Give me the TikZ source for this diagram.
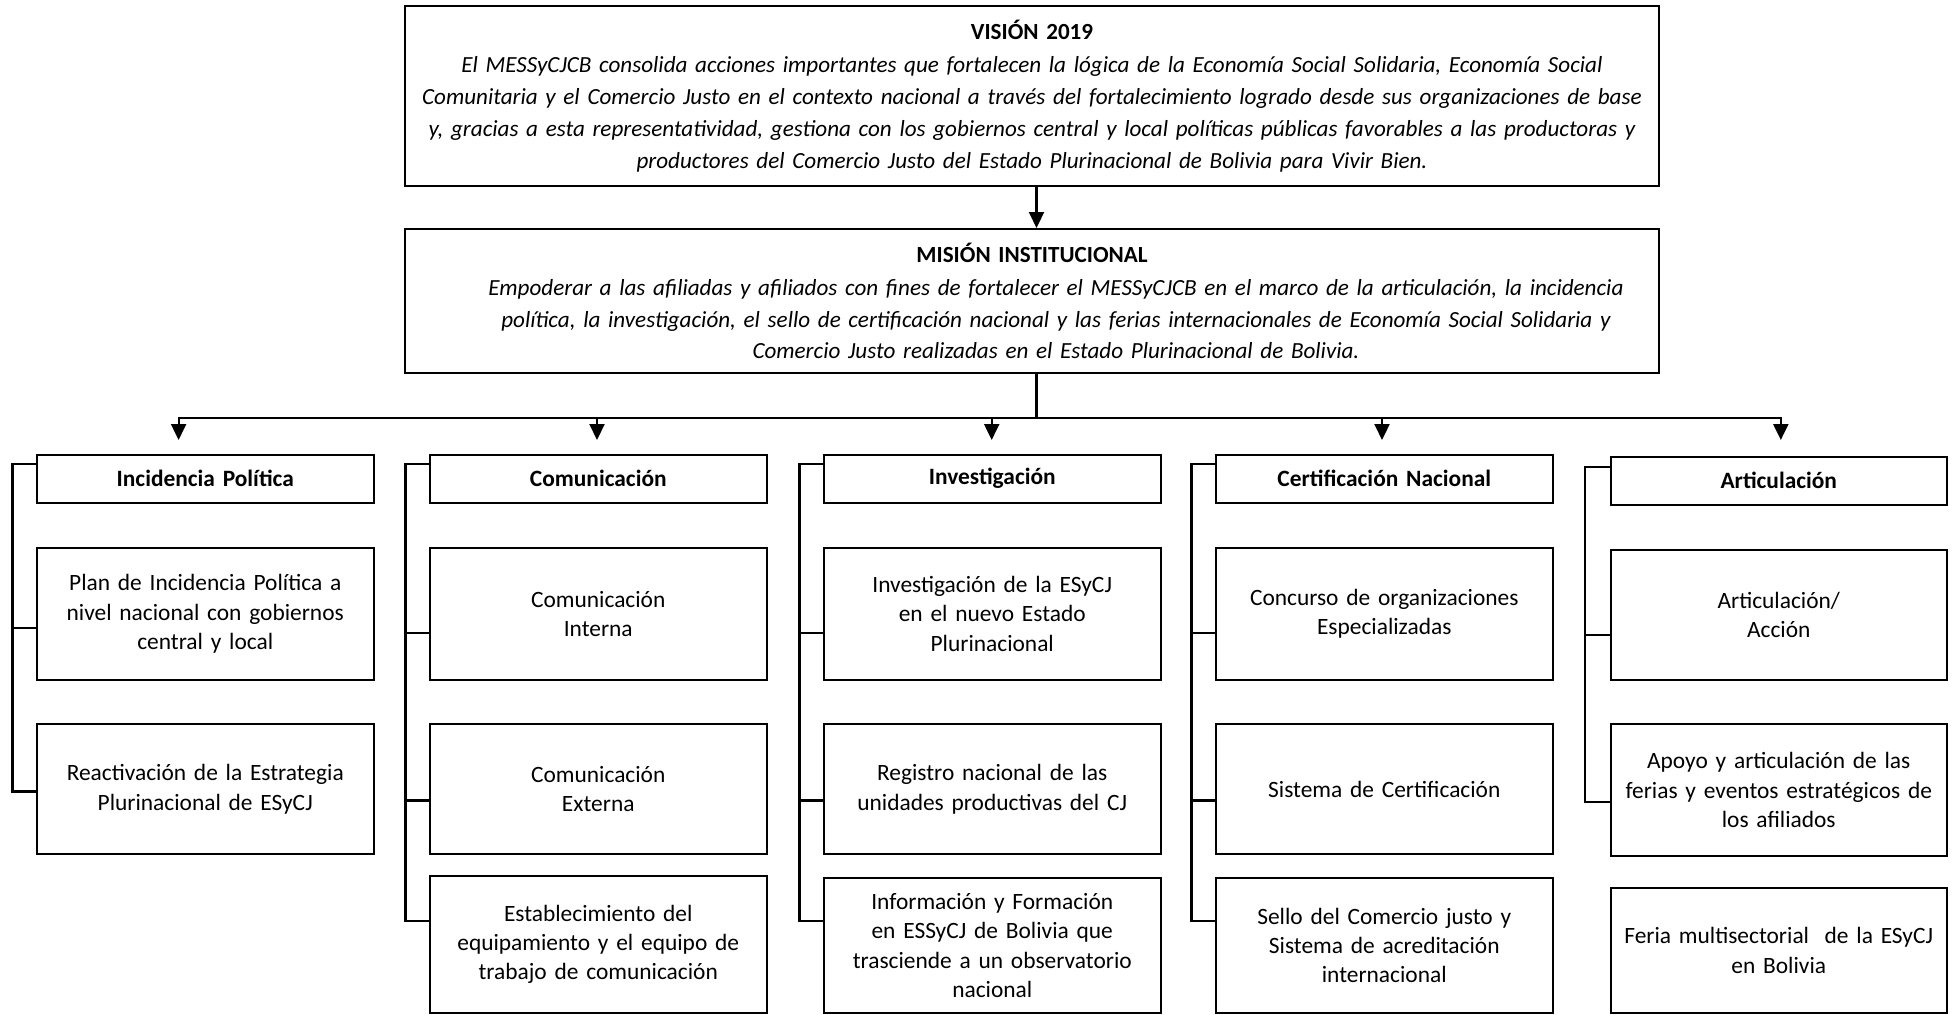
\documentclass[tikz,border=0pt]{standalone}
\usepackage{fontspec}
\setmainfont{Carlito}
\usetikzlibrary{arrows.meta,calc}
\begin{document}
\begin{tikzpicture}[x=1pt,y=-1pt,
  box/.style={draw, line width=2pt, minimum width=336.5pt, text width=330pt, align=center,
    inner sep=0pt, anchor=north west, font=\fontsize{23.4}{29.3}\selectfont},
  hbox/.style={box, minimum height=48.2pt, font=\fontsize{23.4}{29.3}\selectfont\bfseries},
  bigbox/.style={draw, line width=2pt, minimum width=1254pt, text width=1254pt, align=center,
    inner sep=0pt, font=\fontsize{23.1}{31.7}\selectfont},
  conn/.style={line width=2.2pt},
  arr/.style={conn, -{Triangle[length=16pt,width=15pt]}},
]
\useasboundingbox (0,0) rectangle (1953,1014);

% top boxes
\node[bigbox, minimum height=180pt] (vision) at (1032,96)
 {{\bfseries VISIÓN 2019}\\[1.6pt]
  \itshape El MESSyCJCB consolida acciones importantes que fortalecen la lógica de la Economía Social Solidaria, Economía Social\\
  Comunitaria y el Comercio Justo en el contexto nacional a través del fortalecimiento logrado desde sus organizaciones de base\\
  y, gracias a esta representatividad, gestiona con los gobiernos central y local políticas públicas favorables a las productoras y\\
  productores del Comercio Justo del Estado Plurinacional de Bolivia para Vivir Bien.};
\node[bigbox, minimum height=144pt] (mission) at (1032,301)
 {{\bfseries MISIÓN INSTITUCIONAL}\\[1.6pt]
  \itshape \hspace*{48pt}Empoderar a las afiliadas y afiliados con fines de fortalecer el MESSyCJCB en el marco de la articulación, la incidencia\\
  \hspace*{48pt}política, la investigación, el sello de certificación nacional y las ferias internacionales de Economía Social Solidaria y\\
  \hspace*{48pt}Comercio Justo realizadas en el Estado Plurinacional de Bolivia.};

% column 1
\node[hbox] (h1) at (36,453.6) {Incidencia Política};
\node[box, minimum height=132pt] (a1) at (36,546.8) {Plan de Incidencia Política a\\nivel nacional con gobiernos\\central y local};
\node[box, minimum height=129.6pt] (a2) at (36,723.4) {Reactivación de la Estrategia\\Plurinacional de ESyCJ};

% column 2
\node[hbox] (h2) at (429,453.6) {Comunicación};
\node[box, minimum height=132pt] (b1) at (429,546.8) {Comunicación\\Interna};
\node[box, minimum height=129.6pt] (b2) at (429,723.4) {Comunicación\\Externa};
\node[box, minimum height=137.4pt] (b3) at (429,874.6) {Establecimiento del\\equipamiento y el equipo de\\trabajo de comunicación};

% column 3
\node[hbox] (h3) at (823,453.6) {Investigación};
\node[box, minimum height=132pt] (c1) at (823,546.8) {Investigación de la ESyCJ\\en el nuevo Estado\\Plurinacional};
\node[box, minimum height=129.6pt] (c2) at (823,723.4) {Registro nacional de las\\unidades productivas del CJ};
\node[box, minimum height=135.1pt] (c3) at (823,876.9) {Información y Formación\\en ESSyCJ de Bolivia que\\trasciende a un observatorio\\nacional};

% column 4
\node[hbox] (h4) at (1215,453.6) {Certificación Nacional};
\node[box, minimum height=132pt] (d1) at (1215,546.8) {Concurso de organizaciones\\Especializadas};
\node[box, minimum height=129.6pt] (d2) at (1215,723.4) {Sistema de Certificación};
\node[box, minimum height=135.1pt] (d3) at (1215,876.9) {Sello del Comercio justo y\\Sistema de acreditación\\internacional};

% column 5
\node[hbox] (h5) at (1609.5,455.6) {Articulación};
\node[box, minimum height=130pt] (e1) at (1609.5,548.8) {Articulación/\\Acción};
\node[box, minimum height=131.6pt] (e2) at (1609.5,723.4) {Apoyo y articulación de las\\ferias y eventos estratégicos de\\los afiliados};
\node[box, minimum height=125.3pt] (e3) at (1609.5,886.7) {Feria multisectorial\ \ de la ESyCJ\\en Bolivia};

% vision -> mission
\draw[arr] ([xshift=4.5pt]vision.south) -- ([xshift=4.5pt]mission.north);

% bus
\draw[conn] ([xshift=4.5pt]mission.south) -- ++(0,43.8) coordinate (busc);
\coordinate (t1) at (178.6,440);
\coordinate (t2) at (597,440);
\coordinate (t3) at (991.7,440);
\coordinate (t4) at (1382,440);
\coordinate (t5) at (1780.8,440);
\draw[arr] (busc) -| (t1);
\draw[arr] (busc) -| (t5);
\draw[arr] (t2 |- busc) -- (t2);
\draw[arr] (t3 |- busc) -- (t3);
\draw[arr] (t4 |- busc) -- (t4);

% brackets
\draw[conn] ([yshift=14.5pt]h1.west) -- ++(-23.5,0) |- ([yshift=-2.2pt]a2.west);
\draw[conn] ([yshift=-14.2pt]a1.west) -- ++(-23.5,0);

\draw[conn] ([yshift=14.5pt]h2.west) -- ++(-23.5,0) |- ([yshift=23.3pt]b3.west);
\draw[conn] ([yshift=-19pt]b1.west) -- ++(-23.5,0);
\draw[conn] ([yshift=-11.2pt]b2.west) -- ++(-23.5,0);

\draw[conn] ([yshift=14.5pt]h3.west) -- ++(-23.5,0) |- ([yshift=24.5pt]c3.west);
\draw[conn] ([yshift=-19pt]c1.west) -- ++(-23.5,0);
\draw[conn] ([yshift=-11.2pt]c2.west) -- ++(-23.5,0);

\draw[conn] ([yshift=14.5pt]h4.west) -- ++(-23.5,0) |- ([yshift=24.5pt]d3.west);
\draw[conn] ([yshift=-19pt]d1.west) -- ++(-23.5,0);
\draw[conn] ([yshift=-11.2pt]d2.west) -- ++(-23.5,0);

\draw[conn] ([yshift=13.7pt]h5.west) -- ++(-24.5,0) |- ([yshift=-12.1pt]e2.west);
\draw[conn] ([yshift=-19.9pt]e1.west) -- ++(-24.5,0);
\end{tikzpicture}
\end{document}
